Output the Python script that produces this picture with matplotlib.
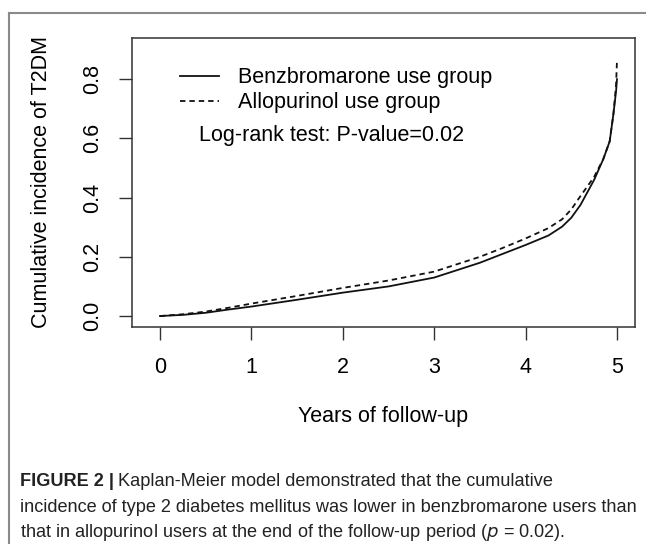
import matplotlib
matplotlib.use("Agg")
import matplotlib.pyplot as plt
from matplotlib.lines import Line2D

# ---- data ----
years = [0, 0.25, 0.5, 0.75, 1.0, 1.5, 2.0, 2.5, 3.0, 3.5, 3.75, 4.0, 4.25,
         4.4, 4.5, 4.6, 4.75, 4.85, 4.92, 4.96, 4.99, 5.0]
benzbromarone = [0, 0.004, 0.011, 0.022, 0.032, 0.055, 0.079, 0.100, 0.130,
                 0.180, 0.210, 0.240, 0.272, 0.302, 0.332, 0.375, 0.460,
                 0.530, 0.590, 0.680, 0.760, 0.800]
allopurinol = [0, 0.006, 0.015, 0.028, 0.042, 0.068, 0.095, 0.120, 0.150,
               0.200, 0.230, 0.262, 0.297, 0.327, 0.360, 0.405, 0.470,
               0.530, 0.590, 0.680, 0.780, 0.865]
xticks = [0, 1, 2, 3, 4, 5]
yticks = [0.0, 0.2, 0.4, 0.6, 0.8]
ytick_labels = ["0.0", "0.2", "0.4", "0.6", "0.8"]
series_labels = ["Benzbromarone use group", "Allopurinol use group"]
xlabel = "Years of follow-up"
ylabel = "Cumulative incidence of T2DM"
stat_text = "Log-rank test: P-value=0.02"
caption_bold = "FIGURE 2 |"
caption_lines = [
    "Kaplan-Meier model demonstrated that the cumulative",
    "incidence of type 2 diabetes mellitus was lower in benzbromarone users than",
    "that in allopurinol users at the end of the follow-up period ($\\it{p}$ = 0.02).",
]

W, H = 646, 544
fig = plt.figure(figsize=(W / 100, H / 100), dpi=100)
fig.patch.set_facecolor("white")

plot_font = ["Liberation Sans", "DejaVu Sans"]
cap_font = ["Liberation Sans Narrow", "Liberation Sans", "DejaVu Sans"]

# axes box in pixels: x 132-635, y 38-327 (from top)
left, right, top, bottom = 132, 635, 38, 327
ax = fig.add_axes([left / W, 1 - bottom / H, (right - left) / W, (bottom - top) / H])
ax.set_xlim(-0.306, 5.197)
ax.set_ylim(-0.037, 0.939)

ax.plot(years, benzbromarone, color="#111111", lw=1.3, solid_joinstyle="round")
ax.plot(years, allopurinol, color="#111111", lw=1.3, dashes=(3.0, 2.2))

for s in ax.spines.values():
    s.set_linewidth(1.1)
    s.set_color("#333333")

ax.set_xticks(xticks)
ax.set_xticklabels([str(t) for t in xticks], fontfamily=plot_font, fontsize=15.5)
ax.set_yticks(yticks)
ax.set_yticklabels(ytick_labels, fontfamily=plot_font, fontsize=15.5,
                   rotation=90, va="center")
ax.tick_params(axis="both", length=9.5, width=1.0, color="#333333",
               direction="out")
ax.tick_params(axis="x", pad=12)
ax.tick_params(axis="y", pad=11)
ax.set_xlabel(xlabel, fontfamily=plot_font, fontsize=15.5, labelpad=20)
ax.set_ylabel(ylabel, fontfamily=plot_font, fontsize=15.5, labelpad=22)

handles = [Line2D([], [], color="#111111", lw=1.3),
           Line2D([], [], color="#111111", lw=1.3, dashes=(3.0, 2.2))]
leg = ax.legend(handles, series_labels, loc="upper left",
                bbox_to_anchor=(0.078, 0.929), frameon=False,
                prop={"family": plot_font, "size": 15.5},
                handlelength=1.8, handletextpad=0.9, labelspacing=0.2,
                borderaxespad=0.0)
ax.text(0.133, 0.661, stat_text, transform=ax.transAxes, fontfamily=plot_font,
        fontsize=15.5, va="center", ha="left")

# outer frame lines (top and left)
fig.add_artist(Line2D([9 / W, 1.0], [1 - 13 / H, 1 - 13 / H], color="#8a8a8a",
                      lw=1.5, transform=fig.transFigure))
fig.add_artist(Line2D([9 / W, 9 / W], [0.0, 1 - 13 / H], color="#8a8a8a",
                      lw=1.5, transform=fig.transFigure))

# caption
cap_x = 20 / W
cap_y = [1 - 486 / H, 1 - 512 / H, 1 - 537 / H]
fs_cap = 13.1
tb = fig.text(cap_x, cap_y[0], caption_bold, fontfamily=cap_font,
              fontweight="bold", fontsize=fs_cap, va="baseline", ha="left",
              color="#222222")
fig.canvas.draw()
bb = tb.get_window_extent()
fig.text((bb.x1 + 4) / W, cap_y[0], caption_lines[0], fontfamily=cap_font,
         fontsize=fs_cap, va="baseline", ha="left", color="#222222")
for txt, yy in zip(caption_lines[1:], cap_y[1:]):
    fig.text(cap_x, yy, txt, fontfamily=cap_font, fontsize=fs_cap,
             va="baseline", ha="left", color="#222222")

fig.savefig("out.png", dpi=100)
